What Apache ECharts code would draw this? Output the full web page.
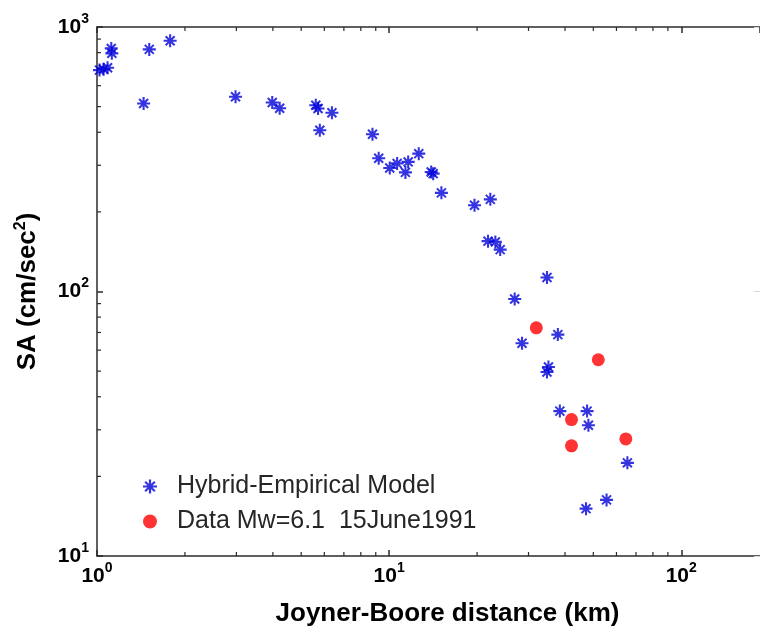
<!DOCTYPE html>
<html><head><meta charset="utf-8">
<script src="https://cdn.jsdelivr.net/npm/echarts@6/dist/echarts.min.js"></script>
<style>html,body{margin:0;padding:0;background:#fff}#c{width:760px;height:629px}</style>
</head><body><div id="c"></div>
<script>
// Hybrid-Empirical Model (Joyner-Boore distance km, SA cm/s^2)
const hybridDist = [1.02,1.053,1.087,1.119,1.124,1.51,1.78,1.444,2.98,3.98,4.22,5.61,5.71,6.37,5.79,8.77,9.21,10.05,10.65,11.62,11.37,12.63,13.93,14.15,15.1,19.6,22.2,21.8,23.1,24.0,34.7,26.9,37.8,28.5,35.1,34.7,38.4,47.6,48.1,65.4,55.5,47.2];
const hybridSA   = [687,693,701,830,795,823,887,514,545,518,493,506,492,474,407,393,319,293,305,309,282,332,283,279,236,212,223,155,154,144,113,93.7,68.7,63.7,51.8,49.6,35.3,35.3,31.2,22.5,16.3,15.1];
// Recorded data Mw=6.1 15 June 1991
const dataDist = [31.9,52.0,42.1,64.6,42.1];
const dataSA   = [72.9,55.2,32.8,27.7,26.1];
// axes
const xRange = [1, 186];
const yRange = [10, 1000];
const xMinorTicks = [2,3,4,5,6,7,8,9,20,30,40,50,60,70,80,90];
const yMinorTicks = [20,30,40,50,60,70,80,90,200,300,400,500,600,700,800,900];
const seriesNames = ['Hybrid-Empirical Model', 'Data Mw=6.1  15June1991'];

const FONT = "'Liberation Sans', Arial, sans-serif";
const AXC = '#2b2b2b';
const ASTER = 'path://M0 42L100 42L100 58L0 58Z M42 0L58 0L58 100L42 100Z M10 21L21 10L90 79L79 90Z M79 10L90 21L21 90L10 79Z';

const zip = (a, b) => a.map((v, i) => [v, b[i]]);
const powLabel = v => {
  const l = Math.log10(v), e = Math.round(l);
  return Math.abs(l - e) > 1e-6 ? '' : '{b|10}{s|' + e + '}';
};
const labRich = {
  b: {fontFamily: FONT, fontWeight: 'bold', fontSize: 21, color: '#000'},
  s: {fontFamily: FONT, fontWeight: 'bold', fontSize: 14, color: '#000', padding: [0, 0, 16, 0]}
};
const lineStyle = {color: AXC, width: 1.5};

const chart = echarts.init(document.getElementById('c'), null, {renderer: 'canvas'});
chart.setOption({
  animation: false,
  backgroundColor: '#fff',
  grid: {left: 97, top: 27, right: 0, bottom: 73, containLabel: false, outerBoundsMode: 'none'},
  legend: {
    orient: 'vertical', left: 138, top: 469, itemWidth: 14, itemHeight: 14, itemGap: 10,
    data: seriesNames,
    textStyle: {fontFamily: FONT, fontSize: 25, color: '#262626', padding: [0, 0, 0, 15]}
  },
  xAxis: [{
    type: 'log', logBase: 10, min: xRange[0], max: xRange[1], position: 'bottom',
    name: 'Joyner-Boore distance (km)', nameLocation: 'middle', nameGap: 45,
    nameTextStyle: {fontFamily: FONT, fontWeight: 'bold', fontSize: 26, color: '#000', padding: [0, 0, 0, 38]},
    axisLine: {show: true, lineStyle},
    axisTick: {show: true, inside: true, length: 6, lineStyle},
    axisLabel: {margin: 5, formatter: powLabel, rich: labRich, showMaxLabel: false},
    splitLine: {show: false}, minorTick: {show: false}
  }, {
    type: 'log', logBase: 10, min: xRange[0], max: xRange[1], position: 'top',
    axisLine: {show: true, lineStyle},
    axisTick: {show: true, inside: true, length: 6, lineStyle},
    axisLabel: {show: false}, splitLine: {show: false}
  }],
  yAxis: [{
    type: 'log', logBase: 10, min: yRange[0], max: yRange[1], position: 'left',
    name: 'SA (cm/sec{s|2})', nameLocation: 'middle', nameGap: 54, nameRotate: 90,
    nameTextStyle: {fontFamily: FONT, fontWeight: 'bold', fontSize: 26, color: '#000',
      rich: {s: {fontFamily: FONT, fontWeight: 'bold', fontSize: 16, color: '#000', padding: [0, 0, 14, 0]}}},
    axisLine: {show: true, lineStyle},
    axisTick: {show: true, inside: true, length: 6, lineStyle},
    axisLabel: {margin: 8, formatter: powLabel, rich: labRich},
    splitLine: {show: false}
  }, {
    type: 'log', logBase: 10, min: yRange[0], max: yRange[1], position: 'right',
    axisLine: {show: true, lineStyle: {color: '#d8d8d8', width: 1}},
    axisTick: {show: true, inside: true, length: 6, lineStyle: {color: '#d8d8d8', width: 1}},
    axisLabel: {show: false}, splitLine: {show: false}
  }],
  series: [{
    name: seriesNames[0], type: 'scatter', symbol: ASTER, symbolSize: 13,
    itemStyle: {color: '#0000d8'},
    data: zip(hybridDist, hybridSA)
  }, {
    name: seriesNames[1], type: 'scatter', symbol: 'circle', symbolSize: 13,
    itemStyle: {color: '#ff0000'},
    data: zip(dataDist, dataSA)
  }, {
    type: 'custom', silent: true, clip: false,
    data: xMinorTicks.map(v => [v, yRange[0]]),
    renderItem: (params, api) => {
      const v = api.value(0);
      const b = api.coord([v, yRange[0]]), t = api.coord([v, yRange[1]]);
      const st = {stroke: AXC, lineWidth: 1.2};
      return {type: 'group', children: [
        {type: 'line', shape: {x1: b[0], y1: b[1], x2: b[0], y2: b[1] - 4}, style: st},
        {type: 'line', shape: {x1: t[0], y1: t[1], x2: t[0], y2: t[1] + 4}, style: st}
      ]};
    }
  }, {
    type: 'custom', silent: true, clip: false,
    data: yMinorTicks.map(v => [xRange[0], v]),
    renderItem: (params, api) => {
      const v = api.value(1);
      const l = api.coord([xRange[0], v]);
      const st = {stroke: AXC, lineWidth: 1.2};
      return {type: 'group', children: [
        {type: 'line', shape: {x1: l[0], y1: l[1], x2: l[0] + 4, y2: l[1]}, style: st}
      ]};
    }
  }]
});
</script></body></html>
